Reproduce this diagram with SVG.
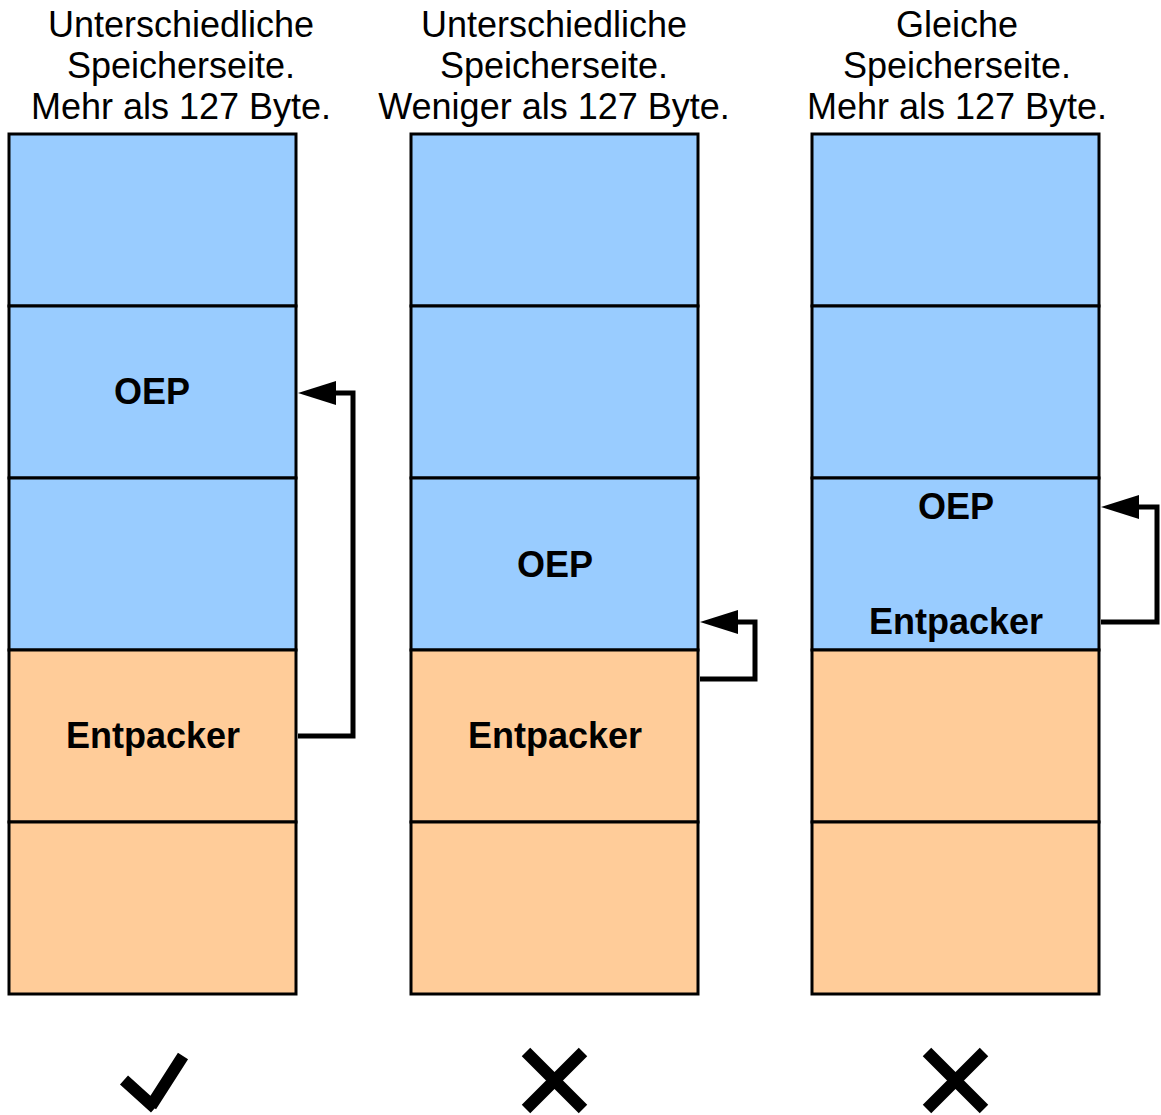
<svg xmlns="http://www.w3.org/2000/svg" width="1161" height="1115" viewBox="0 0 1161 1115">
<defs>
<style>
.b{fill:#99CCFF;stroke:#000;stroke-width:3}
.o{fill:#FFCC99;stroke:#000;stroke-width:3}
.t{font-family:"Liberation Sans",Arial,sans-serif;font-size:36px;text-anchor:middle;fill:#000}
.l{font-family:"Liberation Sans",Arial,sans-serif;font-size:36px;font-weight:bold;text-anchor:middle;fill:#000}
.c{fill:none;stroke:#000;stroke-width:5}
.m{fill:none;stroke:#000;stroke-width:12}
</style>
</defs>
<rect width="1161" height="1115" fill="#fff"/>
<g id="col1">
<text class="t" x="181" y="37">Unterschiedliche</text>
<text class="t" x="181" y="78">Speicherseite.</text>
<text class="t" x="181" y="119">Mehr als 127 Byte.</text>
<rect class="b" x="9" y="134" width="287" height="172"/>
<rect class="b" x="9" y="306" width="287" height="172"/>
<rect class="b" x="9" y="478" width="287" height="172"/>
<rect class="o" x="9" y="650" width="287" height="172"/>
<rect class="o" x="9" y="822" width="287" height="172"/>
<text class="l" x="152" y="404">OEP</text>
<text class="l" x="153" y="748">Entpacker</text>
<path class="m" d="M124,1080 L155,1108 M151,1106 L183,1056"/>
</g>
<g id="col2">
<text class="t" x="554" y="37">Unterschiedliche</text>
<text class="t" x="554" y="78">Speicherseite.</text>
<text class="t" x="554" y="119">Weniger als 127 Byte.</text>
<rect class="b" x="411" y="134" width="287" height="172"/>
<rect class="b" x="411" y="306" width="287" height="172"/>
<rect class="b" x="411" y="478" width="287" height="172"/>
<rect class="o" x="411" y="650" width="287" height="172"/>
<rect class="o" x="411" y="822" width="287" height="172"/>
<text class="l" x="555" y="577">OEP</text>
<text class="l" x="555" y="748">Entpacker</text>
<path class="m" d="M526,1052 L583,1109 M583,1052 L526,1109"/>
</g>
<g id="col3">
<text class="t" x="957" y="37">Gleiche</text>
<text class="t" x="957" y="78">Speicherseite.</text>
<text class="t" x="957" y="119">Mehr als 127 Byte.</text>
<rect class="b" x="812" y="134" width="287" height="172"/>
<rect class="b" x="812" y="306" width="287" height="172"/>
<rect class="b" x="812" y="478" width="287" height="172"/>
<rect class="o" x="812" y="650" width="287" height="172"/>
<rect class="o" x="812" y="822" width="287" height="172"/>
<text class="l" x="956" y="519">OEP</text>
<text class="l" x="956" y="634">Entpacker</text>
<path class="m" d="M927,1052 L984,1109 M984,1052 L927,1109"/>
</g>
<g id="connectors">
<path class="c" d="M298,736 H353 V393 H335"/>
<path d="M298,393 L336,381 L336,405 Z" fill="#000"/>
<path class="c" d="M700,679 H755 V622 H737"/>
<path d="M700,622 L738,610 L738,634 Z" fill="#000"/>
<path class="c" d="M1101,622 H1157 V507 H1138"/>
<path d="M1101,507 L1139,495 L1139,519 Z" fill="#000"/>
</g>
</svg>
